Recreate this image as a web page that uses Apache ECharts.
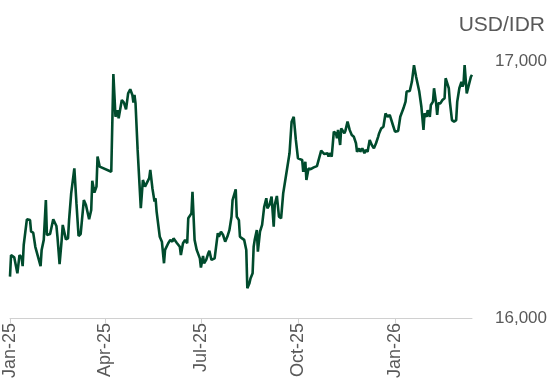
<!DOCTYPE html>
<html>
<head>
<meta charset="utf-8">
<script src="https://cdn.jsdelivr.net/npm/echarts@6/dist/echarts.min.js"></script>
<style>html,body{margin:0;padding:0;background:#fff}#c{width:550px;height:391px}</style>
</head>
<body>
<div id="c"></div>
<script>
// x values: days since 2025-01-01
var days = [0,1,4,7,9,11,12,13,14,16,19,20,22,24,29,30,32,34,35,38,39,41,44,45,47,49,50,53,55,56,58,61,63,65,67,68,70,72,75,77,78,80,82,83,85,96,98,100,102,103,106,108,110,112,114,116,117,118,119,121,124,126,128,129,132,133,135,137,138,139,140,142,144,146,147,150,152,154,155,158,161,162,164,166,168,169,172,173,175,177,180,181,183,184,186,188,189,191,194,197,198,200,202,204,206,208,210,211,214,215,217,218,220,222,224,225,227,228,230,231,232,234,235,237,239,241,243,244,246,248,250,251,253,255,257,259,261,265,267,269,271,272,273,277,278,280,281,283,285,288,291,293,295,298,301,302,303,305,307,309,310,311,313,314,317,318,320,322,324,326,328,329,331,332,334,336,337,339,341,343,345,347,349,350,352,354,356,358,360,361,363,365,368,370,373,375,376,379,381,383,385,388,390,392,393,395,396,398,399,401,402,404,405,406,408,410,412,413,416,417,419,421,423,424,426,428,429,430,431,433,435,437,438];
var usdIdr = [16161,16245,16236,16174,16245,16236,16202,16284,16277,16384,16381,16336,16332,16277,16202,16265,16304,16459,16323,16327,16323,16384,16358,16316,16210,16304,16362,16306,16310,16381,16485,16582,16446,16319,16327,16323,16459,16440,16384,16420,16534,16488,16511,16628,16589,16569,16949,16783,16809,16777,16848,16838,16812,16874,16890,16868,16838,16868,16835,16654,16427,16537,16511,16517,16544,16576,16505,16453,16466,16414,16420,16316,16297,16213,16265,16291,16304,16297,16310,16293,16277,16245,16291,16304,16291,16388,16407,16491,16304,16265,16232,16196,16241,16213,16226,16252,16262,16226,16232,16330,16316,16336,16323,16297,16316,16342,16394,16459,16501,16394,16381,16316,16310,16304,16265,16116,16135,16154,16174,16277,16304,16342,16258,16336,16362,16433,16466,16427,16440,16472,16355,16440,16475,16394,16388,16485,16537,16641,16764,16783,16693,16693,16621,16615,16569,16608,16537,16582,16579,16586,16591,16621,16651,16638,16641,16628,16641,16628,16725,16719,16699,16732,16673,16738,16719,16729,16764,16732,16712,16705,16680,16647,16660,16647,16660,16641,16654,16647,16693,16673,16660,16680,16705,16719,16738,16744,16796,16783,16790,16783,16751,16725,16728,16783,16816,16842,16881,16883,16919,16984,16939,16881,16822,16732,16796,16783,16809,16783,16829,16842,16894,16835,16790,16835,16835,16848,16855,16933,16894,16842,16770,16764,16770,16842,16894,16919,16900,16913,16984,16874,16907,16939,16946];
var tickDays = [0,90,181,273,365];
var tickLabels = ['Jan-25','Apr-25','Jul-25','Oct-25','Jan-26'];
var yTicks = [16000,17000];

var seriesData = days.map(function(d,i){return [d, usdIdr[i]];});
var chart = echarts.init(document.getElementById('c'), null, {renderer:'canvas'});
chart.setOption({
  animation:false,
  title:{text:'USD/IDR', right:0, top:10, textStyle:{color:'#595959', fontSize:21, fontWeight:'normal', fontFamily:'Liberation Sans, Arial, sans-serif'}},
  grid:{left:10, right:77, top:61, bottom:73, containLabel:false},
  xAxis:{
    type:'value', min:0, max:438,
    axisLine:{show:true, lineStyle:{color:'#d0d0d0', width:1}},
    axisTick:{show:true, length:5, lineStyle:{color:'#d0d0d0'}, customValues:tickDays},
    axisLabel:{rotate:90, margin:5, color:'#595959', fontSize:18, fontFamily:'Liberation Sans, Arial, sans-serif',
      customValues:tickDays,
      formatter:function(v){var i=tickDays.indexOf(Math.round(v));return i>=0?tickLabels[i]:'';}},
    splitLine:{show:false}
  },
  yAxis:{
    type:'value', position:'right', min:16000, max:17000, interval:1000,
    axisLine:{show:false}, axisTick:{show:false}, splitLine:{show:false},
    axisLabel:{margin:23, color:'#595959', fontSize:17, fontFamily:'Liberation Sans, Arial, sans-serif',
      customValues:yTicks,
      formatter:function(v){return v.toLocaleString('en-US');}}
  },
  series:[{type:'line', data:seriesData, showSymbol:false, symbol:'none',
    lineStyle:{color:'#004b2d', width:2.6}, itemStyle:{color:'#004b2d'}}]
});
</script>
</body>
</html>
